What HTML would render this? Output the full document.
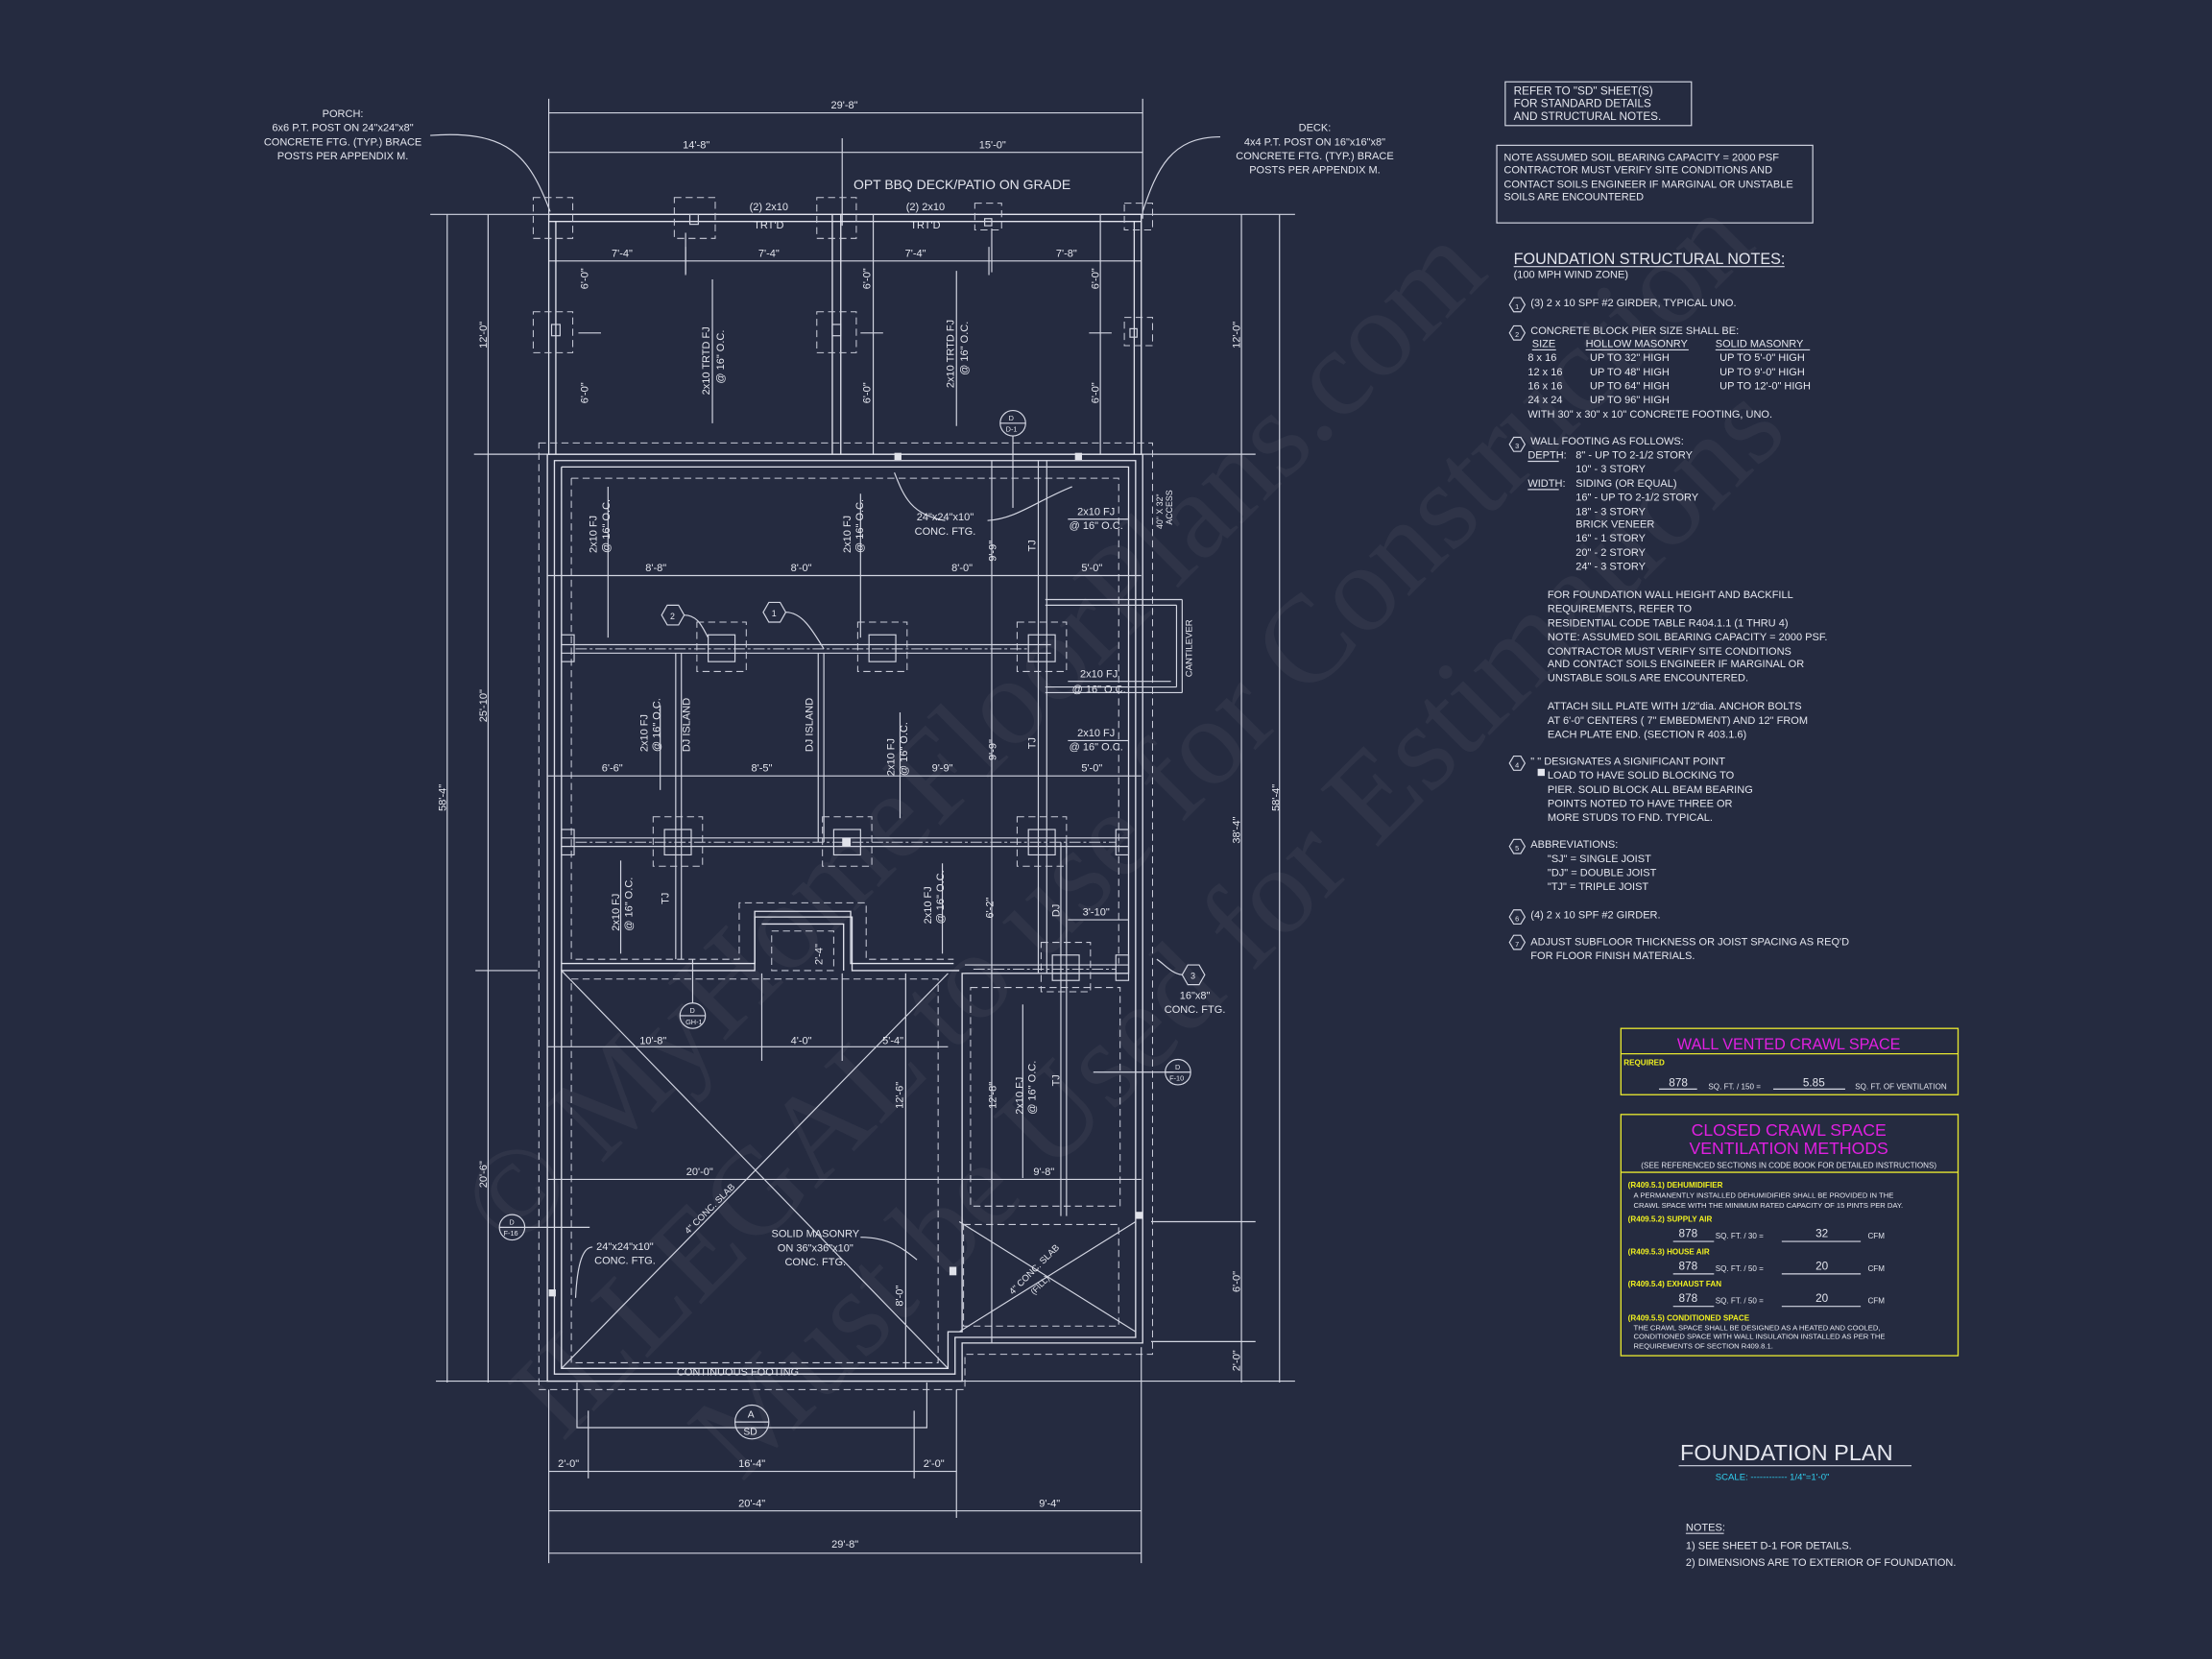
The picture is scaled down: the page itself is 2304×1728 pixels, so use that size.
<!DOCTYPE html>
<html><head><meta charset="utf-8"><style>
html,body{margin:0;padding:0;background:#252b40;}
svg{display:block}
.l{stroke:#d3d6e2;stroke-width:.8;fill:none}
.w{stroke:#e2e4ee;stroke-width:.9;fill:none}
.d{stroke:#c8cbd8;stroke-width:.7;fill:none;stroke-dasharray:5 3}
.c{stroke:#c8cbd8;stroke-width:.7;fill:none;stroke-dasharray:8 2 2 2}
text{font-family:"Liberation Sans",sans-serif;fill:#e4e6ee;font-size:7.5px}
.n{font-size:8px}
.y{fill:#f0f020}
.m{fill:#e020e0}
.wm{font-family:"Liberation Serif",serif;fill:#ffffff;opacity:.045;font-size:88px}
</style></head><body>
<svg width="2304" height="1728" viewBox="0 0 1568 1176" xmlns="http://www.w3.org/2000/svg">
<rect width="1568" height="1176" fill="#252b40"/>
<g transform="rotate(-45 660 620)">
<text class="wm" x="260" y="600">© MyHomeFloorPlans.com</text>
<text class="wm" x="190" y="720">ILLEGAL to use for Construction</text>
<text class="wm" x="260" y="830">Must be Used for Estimations</text>
</g>

<g class="l">
<line x1="389" y1="70" x2="389" y2="155"/><line x1="810" y1="70" x2="810" y2="155"/>
<line x1="389" y1="80" x2="810" y2="80"/>
<line x1="389" y1="108" x2="810" y2="108"/><line x1="597" y1="98" x2="597" y2="160"/>
<line x1="305" y1="152" x2="918" y2="152"/>
<line x1="389" y1="185" x2="809" y2="185"/>
<line x1="486" y1="175" x2="486" y2="195"/><line x1="701" y1="175" x2="701" y2="195"/>
<path d="M305 96 C360 92 375 110 390 150"/><path d="M865 97 C830 97 820 120 810 150"/>
</g>
<text x="589" y="77">29'-8"</text><text x="484" y="105">14'-8"</text><text x="694" y="105">15'-0"</text>
<text x="243" y="83" text-anchor="middle">PORCH:</text>
<text x="243" y="93" text-anchor="middle">6x6 P.T. POST ON 24"x24"x8"</text>
<text x="243" y="103" text-anchor="middle">CONCRETE FTG. (TYP.) BRACE</text>
<text x="243" y="113" text-anchor="middle">POSTS PER APPENDIX M.</text>
<text x="932" y="93" text-anchor="middle">DECK:</text>
<text x="932" y="103" text-anchor="middle">4x4 P.T. POST ON 16"x16"x8"</text>
<text x="932" y="113" text-anchor="middle">CONCRETE FTG. (TYP.) BRACE</text>
<text x="932" y="123" text-anchor="middle">POSTS PER APPENDIX M.</text>
<text x="682" y="134" text-anchor="middle" style="font-size:9.5px">OPT BBQ DECK/PATIO ON GRADE</text>
<text x="545" y="149" text-anchor="middle">(2) 2x10</text><text x="545" y="162" text-anchor="middle">TRT'D</text>
<text x="656" y="149" text-anchor="middle">(2) 2x10</text><text x="656" y="162" text-anchor="middle">TRT'D</text>
<text x="441" y="182" text-anchor="middle">7'-4"</text><text x="545" y="182" text-anchor="middle">7'-4"</text>
<text x="649" y="182" text-anchor="middle">7'-4"</text><text x="756" y="182" text-anchor="middle">7'-8"</text>

<g class="w">
<rect x="389" y="152" width="420" height="170"/>
<line x1="394" y1="157" x2="394" y2="322"/><line x1="804" y1="157" x2="804" y2="322"/>
<line x1="389" y1="157" x2="809" y2="157"/>
<line x1="590" y1="152" x2="590" y2="322"/><line x1="596" y1="152" x2="596" y2="322"/>
</g>
<g class="l"><line x1="619" y1="152" x2="619" y2="322"/><line x1="780" y1="152" x2="780" y2="322"/>
<line x1="505" y1="198" x2="505" y2="300"/><line x1="678" y1="192" x2="678" y2="302"/>
<line x1="486" y1="165" x2="486" y2="194"/><line x1="703" y1="162" x2="703" y2="193"/>
<line x1="410" y1="236" x2="426" y2="236"/><line x1="610" y1="236" x2="626" y2="236"/><line x1="772" y1="236" x2="788" y2="236"/>
</g>
<g class="d">
<rect x="378" y="140" width="28" height="29"/><rect x="478" y="140" width="29" height="29"/><rect x="579" y="140" width="28" height="29"/>
<rect x="691" y="144" width="19" height="19"/><rect x="797" y="144" width="20" height="19"/>
<rect x="378" y="221" width="28" height="29"/><rect x="579" y="221" width="28" height="29"/><rect x="797" y="225" width="20" height="20"/>
</g>
<g class="l"><rect x="391" y="230" width="6" height="8"/><rect x="590" y="230" width="6" height="8"/><rect x="801" y="233" width="5" height="6"/><rect x="489" y="152" width="6" height="7"/><rect x="698" y="155" width="5" height="5"/></g>
<g transform="rotate(-90)">
<text x="-205" y="417">6'-0"</text><text x="-286" y="417">6'-0"</text>
<text x="-205" y="617">6'-0"</text><text x="-286" y="617">6'-0"</text>
<text x="-205" y="779">6'-0"</text><text x="-286" y="779">6'-0"</text>
<text x="-280" y="503">2x10 TRTD FJ</text><text x="-272" y="513">@ 16" O.C.</text>
<text x="-275" y="676">2x10 TRTD FJ</text><text x="-266" y="686">@ 16" O.C.</text>
<text x="-247" y="345">12'-0"</text><text x="-247" y="879">12'-0"</text>
<text x="-512" y="345">25'-10"</text><text x="-842" y="345">20'-6"</text>
<text x="-575" y="316">58'-4"</text><text x="-575" y="907">58'-4"</text>
<text x="-598" y="879">38'-4"</text><text x="-916" y="879">6'-0"</text><text x="-972" y="879">2'-0"</text>
<text x="-375" y="824" style="font-size:6px">40" X 32"</text><text x="-372" y="831" style="font-size:6px">ACCESS</text>
<text x="-480" y="845" style="font-size:6.5px">CANTILEVER</text>
</g>
<circle class="l" cx="718" cy="300" r="9"/><line class="l" x1="709" y1="300" x2="727" y2="300"/>
<line class="l" x1="718" y1="309" x2="718" y2="360"/>
<text x="715" y="298" style="font-size:5px">D</text><text x="713" y="306" style="font-size:5px">D-1</text>

<g class="l">
<line x1="317" y1="152" x2="317" y2="980"/><line x1="346" y1="152" x2="346" y2="980"/>
<line x1="880" y1="152" x2="880" y2="980"/><line x1="907" y1="152" x2="907" y2="980"/>
<line x1="336" y1="322" x2="390" y2="322"/><line x1="810" y1="322" x2="890" y2="322"/>
<line x1="337" y1="688" x2="381" y2="688"/>
<line x1="309" y1="979" x2="918" y2="979"/>
<line x1="816" y1="866" x2="890" y2="866"/><line x1="816" y1="951" x2="890" y2="951"/>
</g>

<g class="w">
<path d="M388 322 H810 V952 H682 V979 H388 Z"/>
<path d="M393 326.5 H805 V948 H677 V974 H393 Z"/>
<path d="M398 331 H800 V690 H682 V944 H672 V970 H398 V688 H535 V650 H604 V688 H680"/>
<path d="M398 688 V331"/>
<path d="M398 683 H535 V646 H603 V683 H676"/>
<path d="M540 655 H598 V688"/>
</g>
<g class="d">
<path d="M382 314 H817 V960 H684 V985 H382 Z"/>
<path d="M405 339 H793 V683 M405 339 V680 H524 V640 H614 V680 H676"/>
<rect x="405" y="694" width="260" height="272"/>
<rect x="688" y="700" width="106" height="155"/>
<rect x="683" y="868" width="110" height="72"/>
<rect x="547" y="660" width="44" height="28"/>
</g>
<g class="l">
<line x1="388" y1="408" x2="809" y2="408"/><line x1="388" y1="550" x2="809" y2="550"/>
<line x1="388" y1="742" x2="672" y2="742"/><line x1="388" y1="836" x2="809" y2="836"/>
<line x1="736" y1="326" x2="736" y2="690"/><line x1="742" y1="326" x2="742" y2="690"/>
<line x1="752" y1="597" x2="752" y2="862"/><line x1="756" y1="597" x2="756" y2="862"/>
<line x1="479" y1="463" x2="479" y2="680"/><line x1="483" y1="463" x2="483" y2="680"/>
<line x1="580" y1="463" x2="580" y2="597"/><line x1="584" y1="463" x2="584" y2="597"/>
<line x1="703" y1="326" x2="703" y2="952"/>
<line x1="642" y1="690" x2="642" y2="970"/>
<line x1="540" y1="690" x2="540" y2="752"/><line x1="597" y1="690" x2="597" y2="752"/>
<line x1="757" y1="652" x2="800" y2="652"/>
<line x1="398" y1="688" x2="672" y2="970"/><line x1="672" y1="690" x2="398" y2="970"/>
<line x1="680" y1="866" x2="805" y2="944"/><line x1="805" y1="866" x2="680" y2="944"/>
<line x1="741" y1="425" x2="838" y2="425"/><line x1="838" y1="425" x2="838" y2="491"/><line x1="741" y1="491" x2="838" y2="491"/>
<line x1="741" y1="429" x2="834" y2="429"/><line x1="834" y1="429" x2="834" y2="487"/><line x1="741" y1="487" x2="834" y2="487"/>
<line x1="431" y1="345" x2="431" y2="452"/><line x1="610" y1="350" x2="610" y2="452"/>
<line x1="468" y1="500" x2="468" y2="560"/><line x1="638" y1="505" x2="638" y2="580"/>
<line x1="440" y1="610" x2="440" y2="676"/><line x1="668" y1="612" x2="668" y2="676"/>
<line x1="725" y1="712" x2="725" y2="835"/>
<line x1="757" y1="368" x2="800" y2="368"/><line x1="757" y1="483" x2="830" y2="483"/><line x1="757" y1="525" x2="800" y2="525"/>
<path d="M634 335 C640 350 645 365 670 369 M700 369 C720 368 735 355 760 345"/>
<path d="M485 436 C495 436 498 445 502 452 M557 434 C568 434 575 445 584 460"/>
<path d="M838 691 C830 690 825 683 820 680"/>
<line x1="832" y1="760" x2="775" y2="760"/>
<line x1="372" y1="870" x2="418" y2="870"/>
<path d="M420 884 C412 884 409 900 408 920"/>
<path d="M610 877 C630 877 640 885 650 893"/>
<line x1="491" y1="711" x2="491" y2="680"/>
<line x1="398" y1="457" x2="745" y2="457"/><line x1="398" y1="463" x2="745" y2="463"/>
<line x1="398" y1="594" x2="800" y2="594"/><line x1="398" y1="600" x2="800" y2="600"/>
<line x1="684" y1="684" x2="800" y2="684"/><line x1="684" y1="690" x2="800" y2="690"/>
<rect x="502" y="450" width="19" height="19"/><rect x="616" y="450" width="19" height="19"/><rect x="729" y="450" width="19" height="19"/>
<rect x="398" y="450" width="9" height="19"/>
<rect x="471" y="588" width="19" height="18"/><rect x="591" y="588" width="19" height="18"/><rect x="729" y="588" width="19" height="18"/>
<rect x="398" y="588" width="9" height="18"/><rect x="791" y="588" width="9" height="18"/>
<rect x="746" y="677" width="19" height="18"/><rect x="791" y="677" width="9" height="18"/>
</g>
<g class="c"><line x1="408" y1="460" x2="729" y2="460"/><line x1="408" y1="597" x2="791" y2="597"/><line x1="690" y1="687" x2="791" y2="687"/></g>
<g class="d">
<rect x="494" y="441" width="35" height="35"/><rect x="608" y="441" width="35" height="35"/><rect x="721" y="441" width="35" height="35"/>
<rect x="463" y="579" width="35" height="35"/><rect x="583" y="579" width="35" height="35"/><rect x="721" y="579" width="35" height="35"/>
<rect x="738" y="668" width="35" height="35"/>
</g>
<rect x="597" y="594" width="6" height="6" fill="#e0e2ea"/>
<g fill="#e0e2ea"><rect x="634" y="321" width="5" height="5"/><rect x="762" y="321" width="5" height="5"/><rect x="389" y="914" width="5" height="5"/><rect x="673" y="898" width="5" height="6"/><rect x="805" y="859" width="5" height="5"/></g>
<g class="l">
<polygon points="469,436 473,429 481,429 485,436 481,443 473,443"/>
<polygon points="541,434 545,427 553,427 557,434 553,441 545,441"/>
<polygon points="838,691 842,684 850,684 854,691 850,698 842,698"/>
<circle cx="491" cy="720" r="9"/><circle cx="835" cy="760" r="9"/><circle cx="363" cy="870" r="9"/><circle cx="533" cy="1008" r="12"/>
<line x1="482" y1="720" x2="500" y2="720"/><line x1="826" y1="760" x2="844" y2="760"/><line x1="354" y1="870" x2="372" y2="870"/><line x1="521" y1="1008" x2="545" y2="1008"/>
<path d="M409 980 V1012 H657 V980 M417 1000 V1048 M648 1000 V1048"/>
</g>
<text x="475" y="439" style="font-size:6px">2</text><text x="547" y="437" style="font-size:6px">1</text><text x="844" y="694" style="font-size:6px">3</text>
<text x="489" y="718" style="font-size:5px">D</text><text x="486" y="726" style="font-size:5px">GH-1</text>
<text x="833" y="758" style="font-size:5px">D</text><text x="829" y="766" style="font-size:5px">F-10</text>
<text x="361" y="868" style="font-size:5px">D</text><text x="357" y="876" style="font-size:5px">F-16</text>
<text x="530" y="1005" style="font-size:7px">A</text><text x="527" y="1017" style="font-size:7px">SD</text>

<text x="465" y="405" text-anchor="middle">8'-8"</text><text x="568" y="405" text-anchor="middle">8'-0"</text>
<text x="682" y="405" text-anchor="middle">8'-0"</text><text x="774" y="405" text-anchor="middle">5'-0"</text>
<text x="434" y="547" text-anchor="middle">6'-6"</text><text x="540" y="547" text-anchor="middle">8'-5"</text>
<text x="668" y="547" text-anchor="middle">9'-9"</text><text x="774" y="547" text-anchor="middle">5'-0"</text>
<text x="463" y="740" text-anchor="middle">10'-8"</text><text x="568" y="740" text-anchor="middle">4'-0"</text><text x="633" y="740" text-anchor="middle">5'-4"</text>
<text x="496" y="833" text-anchor="middle">20'-0"</text><text x="740" y="833" text-anchor="middle">9'-8"</text>
<text x="777" y="649" text-anchor="middle">3'-10"</text>
<text x="777" y="365" text-anchor="middle">2x10 FJ</text><text x="777" y="375" text-anchor="middle">@ 16" O.C.</text>
<text x="779" y="480" text-anchor="middle">2x10 FJ</text><text x="779" y="491" text-anchor="middle">@ 16" O.C.</text>
<text x="777" y="522" text-anchor="middle">2x10 FJ</text><text x="777" y="532" text-anchor="middle">@ 16" O.C.</text>
<text x="670" y="369" text-anchor="middle">24"x24"x10"</text><text x="670" y="379" text-anchor="middle">CONC. FTG.</text>
<text x="847" y="708" text-anchor="middle">16"x8"</text><text x="847" y="718" text-anchor="middle">CONC. FTG.</text>
<text x="578" y="877" text-anchor="middle">SOLID MASONRY</text><text x="578" y="887" text-anchor="middle">ON 36"x36"x10"</text><text x="578" y="897" text-anchor="middle">CONC. FTG.</text>
<text x="443" y="886" text-anchor="middle">24"x24"x10"</text><text x="443" y="896" text-anchor="middle">CONC. FTG.</text>
<text x="523" y="975" text-anchor="middle">CONTINUOUS FOOTING</text>
<text transform="translate(488 875) rotate(-45)" style="font-size:6.5px">4" CONC. SLAB</text>
<text transform="translate(718 918) rotate(-45)" style="font-size:6.5px">4" CONC. SLAB</text>
<text transform="translate(733 918) rotate(-45)" style="font-size:6px">(FILL)</text>
<g transform="rotate(-90)">
<text x="-392" y="423">2x10 FJ</text><text x="-392" y="432">@ 16" O.C.</text>
<text x="-392" y="603">2x10 FJ</text><text x="-392" y="612">@ 16" O.C.</text>
<text x="-533" y="459">2x10 FJ</text><text x="-533" y="468">@ 16" O.C.</text>
<text x="-533" y="489">DJ ISLAND</text><text x="-533" y="576">DJ ISLAND</text>
<text x="-550" y="634">2x10 FJ</text><text x="-550" y="643">@ 16" O.C.</text>
<text x="-660" y="439">2x10 FJ</text><text x="-660" y="448">@ 16" O.C.</text>
<text x="-655" y="660">2x10 FJ</text><text x="-655" y="669">@ 16" O.C.</text>
<text x="-790" y="725">2x10 FJ</text><text x="-790" y="734">@ 16" O.C.</text>
<text x="-398" y="706">9'-9"</text><text x="-539" y="706">9'-9"</text>
<text x="-391" y="734">TJ</text><text x="-531" y="734">TJ</text><text x="-641" y="474">TJ</text><text x="-770" y="751">TJ</text><text x="-650" y="751">DJ</text>
<text x="-651" y="704">6'-2"</text><text x="-684" y="583">2'-4"</text>
<text x="-786" y="640">12'-6"</text><text x="-786" y="706">12'-8"</text><text x="-926" y="640">8'-0"</text>
</g>

<g class="l">
<line x1="389" y1="985" x2="389" y2="1108"/><line x1="678" y1="985" x2="678" y2="1076"/><line x1="809" y1="955" x2="809" y2="1108"/>
<line x1="389" y1="1043" x2="678" y2="1043"/><line x1="389" y1="1071" x2="809" y2="1071"/><line x1="389" y1="1101" x2="809" y2="1101"/>
</g>
<text x="403" y="1040" text-anchor="middle">2'-0"</text><text x="533" y="1040" text-anchor="middle">16'-4"</text><text x="662" y="1040" text-anchor="middle">2'-0"</text>
<text x="533" y="1068" text-anchor="middle">20'-4"</text><text x="744" y="1068" text-anchor="middle">9'-4"</text><text x="599" y="1097" text-anchor="middle">29'-8"</text>

<rect class="l" x="1067" y="58" width="132" height="31"/>
<text x="1073" y="67" class="n">REFER TO "SD" SHEET(S)</text><text x="1073" y="76" class="n">FOR STANDARD DETAILS</text><text x="1073" y="85" class="n">AND STRUCTURAL NOTES.</text>
<rect class="l" x="1061" y="103" width="224" height="55"/>
<text x="1066" y="114">NOTE ASSUMED SOIL BEARING CAPACITY = 2000 PSF</text>
<text x="1066" y="123">CONTRACTOR MUST VERIFY SITE CONDITIONS AND</text>
<text x="1066" y="133">CONTACT SOILS ENGINEER IF MARGINAL OR UNSTABLE</text>
<text x="1066" y="142">SOILS ARE ENCOUNTERED</text>
<text x="1073" y="187" style="font-size:11px">FOUNDATION STRUCTURAL NOTES:</text>
<line class="l" x1="1073" y1="189" x2="1265" y2="189"/>
<text x="1073" y="197">(100 MPH WIND ZONE)</text>
<g class="l">
<polygon points="1070,216 1073,211 1078,211 1081,216 1078,221 1073,221"/>
<polygon points="1070,236 1073,231 1078,231 1081,236 1078,241 1073,241"/>
<polygon points="1070,315 1073,310 1078,310 1081,315 1078,320 1073,320"/>
<polygon points="1070,541 1073,536 1078,536 1081,541 1078,546 1073,546"/>
<polygon points="1070,600 1073,595 1078,595 1081,600 1078,605 1073,605"/>
<polygon points="1070,650 1073,645 1078,645 1081,650 1078,655 1073,655"/>
<polygon points="1070,668 1073,663 1078,663 1081,668 1078,673 1073,673"/>
</g>
<text x="1074" y="219" style="font-size:5px">1</text><text x="1074" y="239" style="font-size:5px">2</text><text x="1074" y="318" style="font-size:5px">3</text><text x="1074" y="544" style="font-size:5px">4</text><text x="1074" y="603" style="font-size:5px">5</text><text x="1074" y="653" style="font-size:5px">6</text><text x="1074" y="671" style="font-size:5px">7</text>
<text x="1085" y="217">(3) 2 x 10 SPF #2 GIRDER, TYPICAL UNO.</text>
<text x="1085" y="237">CONCRETE BLOCK PIER SIZE SHALL BE:</text>
<text x="1086" y="246">SIZE</text><text x="1124" y="246">HOLLOW MASONRY</text><text x="1216" y="246">SOLID MASONRY</text>
<g class="l"><line x1="1086" y1="248" x2="1103" y2="248"/><line x1="1124" y1="248" x2="1197" y2="248"/><line x1="1216" y1="248" x2="1283" y2="248"/></g>
<text x="1083" y="256">8 x 16</text><text x="1127" y="256">UP TO 32" HIGH</text><text x="1219" y="256">UP TO 5'-0" HIGH</text>
<text x="1083" y="266">12 x 16</text><text x="1127" y="266">UP TO 48" HIGH</text><text x="1219" y="266">UP TO 9'-0" HIGH</text>
<text x="1083" y="276">16 x 16</text><text x="1127" y="276">UP TO 64" HIGH</text><text x="1219" y="276">UP TO 12'-0" HIGH</text>
<text x="1083" y="286">24 x 24</text><text x="1127" y="286">UP TO 96" HIGH</text>
<text x="1083" y="296">WITH 30" x 30" x 10" CONCRETE FOOTING, UNO.</text>
<text x="1085" y="315">WALL FOOTING AS FOLLOWS:</text>
<text x="1083" y="325">DEPTH:</text><text x="1117" y="325">8" - UP TO 2-1/2 STORY</text>
<text x="1117" y="335">10" - 3 STORY</text>
<text x="1083" y="345">WIDTH:</text><text x="1117" y="345">SIDING (OR EQUAL)</text>
<g class="l"><line x1="1083" y1="327" x2="1105" y2="327"/><line x1="1083" y1="347" x2="1105" y2="347"/></g>
<text x="1117" y="355">16" - UP TO 2-1/2 STORY</text><text x="1117" y="365">18" - 3 STORY</text>
<text x="1117" y="374">BRICK VENEER</text><text x="1117" y="384">16" - 1 STORY</text>
<text x="1117" y="394">20" - 2 STORY</text><text x="1117" y="404">24" - 3 STORY</text>
<text x="1097" y="424">FOR FOUNDATION WALL HEIGHT AND BACKFILL</text>
<text x="1097" y="434">REQUIREMENTS, REFER TO</text>
<text x="1097" y="444">RESIDENTIAL CODE TABLE R404.1.1 (1 THRU 4)</text>
<text x="1097" y="454">NOTE: ASSUMED SOIL BEARING CAPACITY = 2000 PSF.</text>
<text x="1097" y="464">CONTRACTOR MUST VERIFY SITE CONDITIONS</text>
<text x="1097" y="473">AND CONTACT SOILS ENGINEER IF MARGINAL OR</text>
<text x="1097" y="483">UNSTABLE SOILS ARE ENCOUNTERED.</text>
<text x="1097" y="503">ATTACH SILL PLATE WITH 1/2"dia. ANCHOR BOLTS</text>
<text x="1097" y="513">AT 6'-0" CENTERS ( 7" EMBEDMENT) AND 12" FROM</text>
<text x="1097" y="523">EACH PLATE END. (SECTION R 403.1.6)</text>
<text x="1085" y="542">"   " DESIGNATES A SIGNIFICANT POINT</text>
<rect x="1090" y="545" width="5" height="5" fill="#e4e6ee"/>
<text x="1097" y="552">LOAD TO HAVE SOLID BLOCKING TO</text>
<text x="1097" y="562">PIER. SOLID BLOCK ALL BEAM BEARING</text>
<text x="1097" y="572">POINTS NOTED TO HAVE THREE OR</text>
<text x="1097" y="582">MORE STUDS TO FND. TYPICAL.</text>
<text x="1085" y="601">ABBREVIATIONS:</text>
<text x="1097" y="611">"SJ" = SINGLE JOIST</text><text x="1097" y="621">"DJ" = DOUBLE JOIST</text><text x="1097" y="631">"TJ" = TRIPLE JOIST</text>
<text x="1085" y="651">(4) 2 x 10 SPF #2 GIRDER.</text>
<text x="1085" y="670">ADJUST SUBFLOOR THICKNESS OR JOIST SPACING AS REQ'D</text>
<text x="1085" y="680">FOR FLOOR FINISH MATERIALS.</text>

<g stroke="#e8e830" stroke-width=".9" fill="none">
<rect x="1149" y="729" width="239" height="47"/><line x1="1149" y1="747" x2="1388" y2="747"/>
<rect x="1149" y="790" width="239" height="171"/><line x1="1149" y1="831" x2="1388" y2="831"/>
</g>
<text x="1268" y="744" text-anchor="middle" class="m" style="font-size:11px">WALL VENTED CRAWL SPACE</text>
<text x="1151" y="755" class="y" style="font-size:5.5px;font-weight:bold">REQUIRED</text>
<g class="l"><line x1="1176" y1="772" x2="1203" y2="772"/><line x1="1257" y1="772" x2="1308" y2="772"/>
<line x1="1186" y1="880" x2="1215" y2="880"/><line x1="1263" y1="880" x2="1319" y2="880"/>
<line x1="1186" y1="903" x2="1215" y2="903"/><line x1="1263" y1="903" x2="1319" y2="903"/>
<line x1="1186" y1="926" x2="1215" y2="926"/><line x1="1263" y1="926" x2="1319" y2="926"/></g>
<text x="1183" y="770" style="font-size:8px">878</text><text x="1211" y="772" style="font-size:5.5px">SQ. FT. / 150 =</text>
<text x="1278" y="770" style="font-size:8px">5.85</text><text x="1315" y="772" style="font-size:5.5px">SQ. FT. OF VENTILATION</text>
<text x="1268" y="805" text-anchor="middle" class="m" style="font-size:12px">CLOSED CRAWL SPACE</text>
<text x="1268" y="818" text-anchor="middle" class="m" style="font-size:12px">VENTILATION METHODS</text>
<text x="1268" y="828" text-anchor="middle" style="font-size:5.5px">(SEE REFERENCED SECTIONS IN CODE BOOK FOR DETAILED INSTRUCTIONS)</text>
<text x="1154" y="842" class="y" style="font-size:5.5px;font-weight:bold">(R409.5.1)  DEHUMIDIFIER</text>
<text x="1158" y="849" style="font-size:5.2px">A PERMANENTLY INSTALLED DEHUMIDIFIER SHALL BE PROVIDED IN THE</text>
<text x="1158" y="856" style="font-size:5.2px">CRAWL SPACE WITH THE MINIMUM RATED CAPACITY OF 15 PINTS PER DAY.</text>
<text x="1154" y="866" class="y" style="font-size:5.5px;font-weight:bold">(R409.5.2)  SUPPLY AIR</text>
<text x="1190" y="877" style="font-size:8px">878</text><text x="1216" y="878" style="font-size:5.5px">SQ. FT. / 30 =</text><text x="1287" y="877" style="font-size:8px">32</text><text x="1324" y="878" style="font-size:5.5px">CFM</text>
<text x="1154" y="889" class="y" style="font-size:5.5px;font-weight:bold">(R409.5.3)  HOUSE AIR</text>
<text x="1190" y="900" style="font-size:8px">878</text><text x="1216" y="901" style="font-size:5.5px">SQ. FT. / 50 =</text><text x="1287" y="900" style="font-size:8px">20</text><text x="1324" y="901" style="font-size:5.5px">CFM</text>
<text x="1154" y="912" class="y" style="font-size:5.5px;font-weight:bold">(R409.5.4)  EXHAUST FAN</text>
<text x="1190" y="923" style="font-size:8px">878</text><text x="1216" y="924" style="font-size:5.5px">SQ. FT. / 50 =</text><text x="1287" y="923" style="font-size:8px">20</text><text x="1324" y="924" style="font-size:5.5px">CFM</text>
<text x="1154" y="936" class="y" style="font-size:5.5px;font-weight:bold">(R409.5.5)  CONDITIONED SPACE</text>
<text x="1158" y="943" style="font-size:5.2px">THE CRAWL SPACE SHALL BE DESIGNED AS A HEATED AND COOLED,</text>
<text x="1158" y="949" style="font-size:5.2px">CONDITIONED SPACE WITH WALL INSULATION INSTALLED AS PER THE</text>
<text x="1158" y="956" style="font-size:5.2px">REQUIREMENTS OF SECTION R409.8.1.</text>

<text x="1191" y="1035" style="font-size:16px">FOUNDATION PLAN</text>
<line class="l" x1="1190" y1="1039" x2="1355" y2="1039"/>
<text x="1216" y="1049" style="font-size:6.5px;fill:#30d0f0">SCALE: ------------ 1/4"=1'-0"</text>
<text x="1195" y="1085">NOTES:</text><line class="l" x1="1195" y1="1087" x2="1222" y2="1087"/>
<text x="1195" y="1098">1)  SEE SHEET D-1 FOR DETAILS.</text>
<text x="1195" y="1110">2)  DIMENSIONS ARE TO EXTERIOR OF FOUNDATION.</text>
</svg>
</body></html>
